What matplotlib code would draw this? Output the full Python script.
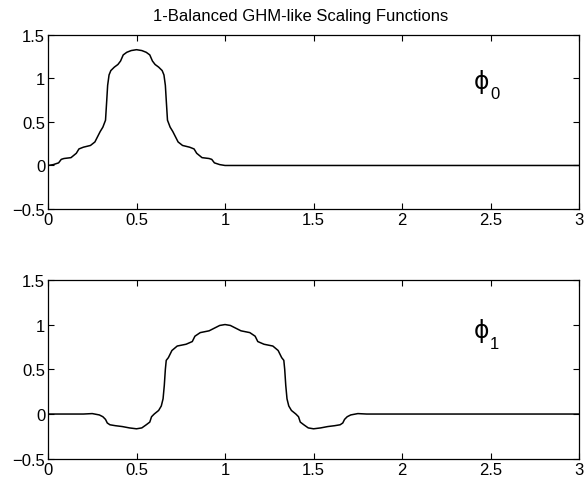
import matplotlib
matplotlib.use("Agg")
import matplotlib.pyplot as plt
import matplotlib.transforms as mtrans

plt.rcParams['font.family'] = ['Liberation Sans', 'DejaVu Sans']

title = "1-Balanced GHM-like Scaling Functions"
xticks = [0, 0.5, 1, 1.5, 2, 2.5, 3]
xticklabels = ["0", "0.5", "1", "1.5", "2", "2.5", "3"]
yticks = [-0.5, 0, 0.5, 1, 1.5]
yticklabels = ["\u22120.5", "0", "0.5", "1", "1.5"]

# phi_0
x0 = [0.00, 0.03, 0.06, 0.075, 0.09, 0.13, 0.16, 0.175, 0.20, 0.24, 0.265, 0.28, 0.295,
      0.31, 0.325, 0.332, 0.337, 0.345, 0.355, 0.375, 0.395, 0.41, 0.425, 0.445, 0.47,
      0.50, 0.53, 0.555, 0.575, 0.59, 0.605, 0.625, 0.645, 0.655, 0.663, 0.668, 0.675,
      0.69, 0.705, 0.72, 0.735, 0.76, 0.80, 0.825, 0.84, 0.87, 0.91, 0.925, 0.94, 0.97,
      1.00, 3.00]
y0 = [0.00, 0.01, 0.03, 0.07, 0.08, 0.09, 0.14, 0.19, 0.21, 0.23, 0.27, 0.33, 0.39,
      0.44, 0.52, 0.75, 0.92, 1.04, 1.09, 1.13, 1.16, 1.20, 1.27, 1.30, 1.32,
      1.33, 1.32, 1.30, 1.27, 1.20, 1.16, 1.13, 1.09, 1.04, 0.92, 0.75, 0.52,
      0.44, 0.39, 0.33, 0.27, 0.23, 0.21, 0.19, 0.14, 0.09, 0.08, 0.07, 0.03, 0.01,
      0.00, 0.00]

# phi_1
x1 = [0.00, 0.20, 0.25, 0.29, 0.31, 0.325, 0.335, 0.35, 0.38, 0.42, 0.46, 0.50, 0.53,
      0.555, 0.575, 0.585, 0.60, 0.625, 0.64, 0.65, 0.657, 0.663, 0.668, 0.68, 0.70,
      0.73, 0.78, 0.815, 0.83, 0.86, 0.91, 0.94, 0.97,
      1.00,
      1.03, 1.06, 1.09, 1.14, 1.17, 1.185, 1.22, 1.27, 1.30, 1.32, 1.332, 1.337, 1.343,
      1.35, 1.36, 1.375, 1.40, 1.415, 1.425, 1.445, 1.47, 1.50, 1.54, 1.58, 1.62, 1.65,
      1.665, 1.675, 1.69, 1.71, 1.75, 1.80, 3.00]
y1 = [0.0, 0.0, 0.005, -0.01, -0.03, -0.06, -0.10, -0.12, -0.13, -0.14, -0.155, -0.165,
      -0.155, -0.12, -0.09, -0.03, 0.0, 0.04, 0.09, 0.17, 0.32, 0.50, 0.60, 0.63, 0.71,
      0.76, 0.78, 0.81, 0.87, 0.91, 0.93, 0.96, 0.99,
      1.00,
      0.99, 0.96, 0.93, 0.91, 0.87, 0.81, 0.78, 0.76, 0.71, 0.63, 0.60, 0.50, 0.32,
      0.17, 0.09, 0.04, 0.0, -0.03, -0.09, -0.12, -0.155, -0.165, -0.155, -0.14, -0.13,
      -0.12, -0.10, -0.06, -0.03, -0.01, 0.005, 0.0, 0.0]

fig = plt.figure(figsize=(5.85, 4.85), dpi=100)
ax_top = fig.add_axes([0.082, 0.567, 0.908, 0.359])
ax_bot = fig.add_axes([0.082, 0.052, 0.908, 0.369])

def style(ax):
    ax.set_xlim(0, 3)
    ax.set_ylim(-0.5, 1.5)
    ax.set_xticks(xticks)
    ax.set_xticklabels(xticklabels)
    ax.set_yticks(yticks)
    ax.set_yticklabels(yticklabels)
    ax.tick_params(direction='in', top=True, right=True, length=4, width=0.8,
                   labelsize=12, pad=2, colors='black')
    for s in ax.spines.values():
        s.set_linewidth(0.9)

ax_top.plot(x0, y0, color='black', linewidth=1.1)
ax_bot.plot(x1, y1, color='black', linewidth=1.1)
style(ax_top)
style(ax_bot)

ax_top.text(0.475, 1.0, title, fontsize=12, ha='center', va='baseline',
            transform=ax_top.transAxes +
            mtrans.ScaledTranslation(0, 11 / 72, fig.dpi_scale_trans))

ax_top.text(2.405, 0.89, "\u03d5", fontsize=17, ha='left', va='baseline',
            family=['DejaVu Sans'])
ax_top.text(2.497, 0.77, "0", fontsize=12, ha='left', va='baseline')
ax_bot.text(2.405, 0.86, "\u03d5", fontsize=17, ha='left', va='baseline',
            family=['DejaVu Sans'])
ax_bot.text(2.497, 0.74, "1", fontsize=12, ha='left', va='baseline')

fig.savefig("out.png", dpi=100)
